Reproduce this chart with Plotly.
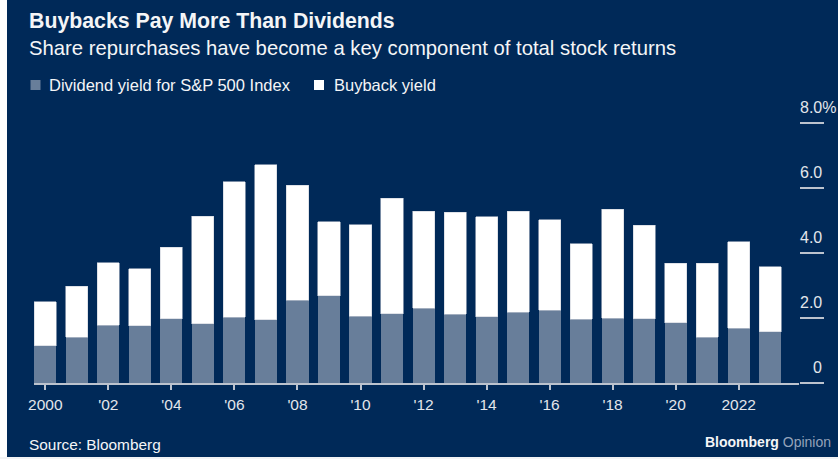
import plotly.graph_objects as go

# ---------------- data ----------------
years = list(range(2000, 2024))
dividend_yield = [1.14, 1.41, 1.78, 1.76, 1.97, 1.82, 2.03, 1.95, 2.55, 2.69, 2.06, 2.13,
                  2.30, 2.12, 2.04, 2.18, 2.24, 1.96, 2.00, 1.97, 1.86, 1.41, 1.68, 1.57]
buyback_yield = [1.36, 1.57, 1.92, 1.76, 2.21, 3.31, 4.16, 4.77, 3.54, 2.27, 2.81, 3.56,
                 2.98, 3.14, 3.08, 3.10, 2.78, 2.32, 3.35, 2.88, 1.83, 2.27, 2.66, 2.01]
series_names = ["Dividend yield for S&P 500 Index", "Buyback yield"]
x_tickvals = [2000, 2002, 2004, 2006, 2008, 2010, 2012, 2014, 2016, 2018, 2020, 2022]
x_ticktext = ["2000", "'02", "'04", "'06", "'08", "'10", "'12", "'14", "'16", "'18", "'20", "2022"]
y_tickvals = [0, 2, 4, 6, 8]
y_ticktext = ["0", "2.0", "4.0", "6.0", "8.0%"]

title = "Buybacks Pay More Than Dividends"
subtitle = "Share repurchases have become a key component of total stock returns"
source = "Source: Bloomberg"

# ---------------- style ----------------
W, H = 838, 459
NAVY = "#002958"
DIV_COLOR = "#687e9a"
BUY_COLOR = "#ffffff"
AXIS_COLOR = "#bcc3ce"
TEXT = "#f4f5f7"
TICK_TEXT = "#e3e6eb"
FONT = "Liberation Sans, Arial, sans-serif"

# plot area in pixels
PX0, PX1, PY0, PY1 = 34, 799, 123, 383


def px(x):
    return (x - PX0) / (PX1 - PX0)


def py(y):
    return (PY1 - y) / (PY1 - PY0)


fig = go.Figure()
fig.add_trace(go.Bar(x=years, y=dividend_yield, name=series_names[0],
                     marker=dict(color=DIV_COLOR, line=dict(width=0)), width=0.7))
fig.add_trace(go.Bar(x=years, y=buyback_yield, name=series_names[1],
                     marker=dict(color=BUY_COLOR, line=dict(width=0.6, color="#c9cfd8")), width=0.7))

annotations = []


def text_at(txt, x, baseline, size, color=TEXT, anchor="left", bold=False):
    top = baseline - 1 - 0.905 * size
    if bold:
        txt = "<b>" + txt + "</b>"
    annotations.append(dict(text=txt, x=px(x), y=py(top), xref="paper", yref="paper",
                            xanchor=anchor, yanchor="top", showarrow=False,
                            font=dict(family=FONT, size=size, color=color)))


text_at(title, 27, 27.5, 21.3, bold=True)
text_at(subtitle, 27, 54, 20.3)
text_at(series_names[0], 47, 90, 16.5)
text_at(series_names[1], 332, 90, 16.5)
text_at(source, 27, 449, 15.4)
annotations.append(dict(
    text="<b>Bloomberg</b> <span style='color:#94a3ba'>Opinion</span>",
    x=px(833), y=py(446 - 1 - 0.905 * 14), xref="paper", yref="paper",
    xanchor="right", yanchor="top", showarrow=False,
    font=dict(family=FONT, size=14, color="#f4f5f7")))

# y tick labels above the short tick lines
for v, t in zip(y_tickvals, y_ticktext):
    if t.endswith("%"):
        annotations.append(dict(text=t, x=px(798), y=v, xref="paper", yref="y",
                                xanchor="left", yanchor="bottom", yshift=5.5, showarrow=False,
                                font=dict(family=FONT, size=16, color=TICK_TEXT)))
    else:
        annotations.append(dict(text=t, x=px(824), y=v, xref="paper", yref="y",
                                xanchor="right", yanchor="bottom", yshift=5.5, showarrow=False,
                                font=dict(family=FONT, size=16, color=TICK_TEXT)))

shapes = [
    # legend swatches
    dict(type="rect", xref="paper", yref="paper", x0=px(30.5), x1=px(40.5), y0=py(90), y1=py(80),
         fillcolor=DIV_COLOR, line=dict(width=0)),
    dict(type="rect", xref="paper", yref="paper", x0=px(314), x1=px(324), y0=py(90), y1=py(80),
         fillcolor=BUY_COLOR, line=dict(width=0)),
    # white frame strips of the screenshot
    dict(type="rect", xref="paper", yref="paper", x0=px(-2), x1=px(7), y0=py(462), y1=py(-2),
         fillcolor="#ffffff", line=dict(width=0), layer="above"),
    dict(type="rect", xref="paper", yref="paper", x0=px(-2), x1=px(842), y0=py(462), y1=py(457),
         fillcolor="#f2f3f5", line=dict(width=0), layer="above"),
]

fig.update_layout(
    width=W, height=H,
    barmode="stack",
    paper_bgcolor=NAVY, plot_bgcolor=NAVY,
    margin=dict(l=PX0, r=W - PX1, t=PY0, b=H - PY1, autoexpand=False),
    showlegend=False,
    annotations=annotations,
    shapes=shapes,
    font=dict(family=FONT, color=TEXT),
    xaxis=dict(range=[1999.64, 2023.914], tickmode="array", tickvals=x_tickvals, ticktext=x_ticktext,
               ticks="outside", ticklen=5, tickwidth=1.5, tickcolor=AXIS_COLOR,
               showline=True, linecolor=AXIS_COLOR, linewidth=1.5,
               showgrid=False, zeroline=False, ticklabelstandoff=2,
               tickfont=dict(family=FONT, size=15.5, color=TICK_TEXT)),
    yaxis=dict(range=[0, 8], side="right", tickmode="array", tickvals=y_tickvals,
               ticks="outside", ticklen=24, tickwidth=1.5, tickcolor=AXIS_COLOR,
               showticklabels=False, showgrid=False, showline=False, zeroline=False),
)

fig.write_html("out.html")
